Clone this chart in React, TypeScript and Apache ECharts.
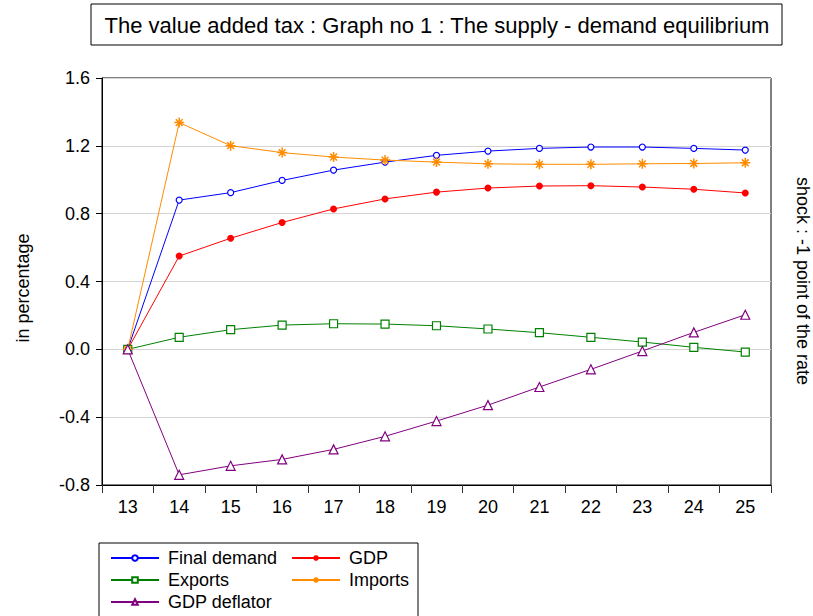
import React, { useEffect, useRef } from 'react';
import * as echarts from 'echarts';

const years = ['13', '14', '15', '16', '17', '18', '19', '20', '21', '22', '23', '24', '25'];
const finalDemand = [0, 0.88, 0.924, 0.996, 1.057, 1.104, 1.144, 1.169, 1.185, 1.193, 1.193, 1.185, 1.175];
const gdp = [0, 0.55, 0.655, 0.748, 0.828, 0.887, 0.927, 0.951, 0.963, 0.965, 0.957, 0.944, 0.922];
const exportsVals = [0, 0.071, 0.116, 0.143, 0.151, 0.149, 0.139, 0.12, 0.098, 0.071, 0.043, 0.012, -0.016];
const imports = [0, 1.337, 1.201, 1.16, 1.134, 1.116, 1.104, 1.094, 1.091, 1.091, 1.094, 1.096, 1.1];
const deflator = [0, -0.74, -0.687, -0.649, -0.59, -0.513, -0.423, -0.329, -0.222, -0.118, -0.01, 0.1, 0.204];

const titleText = 'The value added tax : Graph no 1 : The supply - demand equilibrium';
const leftName = 'in percentage';
const rightName = 'shock : -1 point of the rate';

const FONT = '"Liberation Sans", Arial, sans-serif';
const ASTERISK = 'path://M5 0 L5 10 M0 5 L10 5 M1.6 1.6 L8.4 8.4 M8.4 1.6 L1.6 8.4';

export default function App() {
  const ref = useRef<HTMLDivElement>(null);
  useEffect(() => {
    if (!ref.current) return;
    const chart = echarts.init(ref.current, undefined, { renderer: 'svg' });
    const mk = (name: string, data: number[], color: string, symbol: string, size: number, fill: string, bw: number) => ({
      name,
      type: 'line',
      data,
      symbol,
      symbolSize: size,
      showSymbol: true,
      lineStyle: { color, width: 1 },
      itemStyle: { color: fill, borderColor: color, borderWidth: bw },
      emphasis: { disabled: true },
      z: 3,
    });
    const legendText = { color: '#000', fontSize: 18, fontFamily: FONT, lineHeight: 20, padding: [0, 0, 0, 4] };
    chart.setOption({
      animation: false,
      backgroundColor: '#fff',
      textStyle: { fontFamily: FONT },
      grid: { left: 102, right: 42, top: 78, bottom: 131, show: true, borderColor: '#000', borderWidth: 1, backgroundColor: 'transparent' },
      xAxis: {
        type: 'category',
        data: years,
        boundaryGap: true,
        axisLine: { onZero: false, lineStyle: { color: '#000', width: 1 } },
        axisTick: { show: true, interval: 0, length: 8, lineStyle: { color: '#333' } },
        axisLabel: { color: '#000', fontSize: 18, fontFamily: FONT, margin: 13, interval: 0 },
        splitLine: { show: false },
      },
      yAxis: {
        type: 'value',
        min: -0.8,
        max: 1.6,
        interval: 0.4,
        axisLine: { show: true, lineStyle: { color: '#000', width: 1 } },
        axisTick: { show: true, length: 6, lineStyle: { color: '#000' } },
        axisLabel: { color: '#000', fontSize: 18, fontFamily: FONT, margin: 12, formatter: (v: number) => v.toFixed(1) },
        splitLine: { show: true, lineStyle: { color: '#d4d4d4', width: 1 } },
      },
      legend: [
        {
          data: ['Final demand', 'Exports', 'GDP deflator'],
          orient: 'vertical',
          left: 110,
          top: 548,
          padding: 0,
          itemWidth: 48,
          itemHeight: 7,
          itemGap: 2,
          textStyle: legendText,
          selectedMode: false,
        },
        {
          data: ['GDP', 'Imports'],
          orient: 'vertical',
          left: 291,
          top: 548,
          padding: 0,
          itemWidth: 48,
          itemHeight: 7,
          itemGap: 2,
          textStyle: legendText,
          selectedMode: false,
        },
      ],
      series: [
        mk('Final demand', finalDemand, '#0000ff', 'circle', 6, '#ffffff', 1.2),
        mk('GDP', gdp, '#ff0000', 'circle', 7, '#ff0000', 0),
        mk('Exports', exportsVals, '#008000', 'rect', 8, '#ffffff', 1.2),
        mk('Imports', imports, '#ff8c00', ASTERISK, 10, '#ff8c00', 1.5),
        mk('GDP deflator', deflator, '#800080', 'triangle', 9, '#ffffff', 1.2),
      ],
      graphic: [
        {
          type: 'rect',
          shape: { x: 91, y: 4, width: 691, height: 41 },
          style: { fill: '#fff', stroke: '#000', lineWidth: 1 },
          z: 0,
        },
        {
          type: 'text',
          x: 437,
          y: 25,
          style: { text: titleText, fill: '#000', font: `22px ${FONT}`, textAlign: 'center', textVerticalAlign: 'middle' },
          z: 1,
        },
        {
          type: 'rect',
          shape: { x: 99, y: 543, width: 319, height: 80 },
          style: { fill: '#fff', stroke: '#000', lineWidth: 1 },
          z: -1,
        },
        {
          type: 'text',
          x: 23,
          y: 288,
          rotation: Math.PI / 2,
          style: { text: leftName, fill: '#000', font: `18px ${FONT}`, textAlign: 'center', textVerticalAlign: 'middle' },
        },
        {
          type: 'text',
          x: 803,
          y: 281,
          rotation: -Math.PI / 2,
          style: { text: rightName, fill: '#000', font: `18px ${FONT}`, textAlign: 'center', textVerticalAlign: 'middle' },
        },
      ],
    });
    return () => chart.dispose();
  }, []);
  return <div ref={ref} style={{ position: 'fixed', left: 0, top: 0, width: 813, height: 616 }} />;
}
